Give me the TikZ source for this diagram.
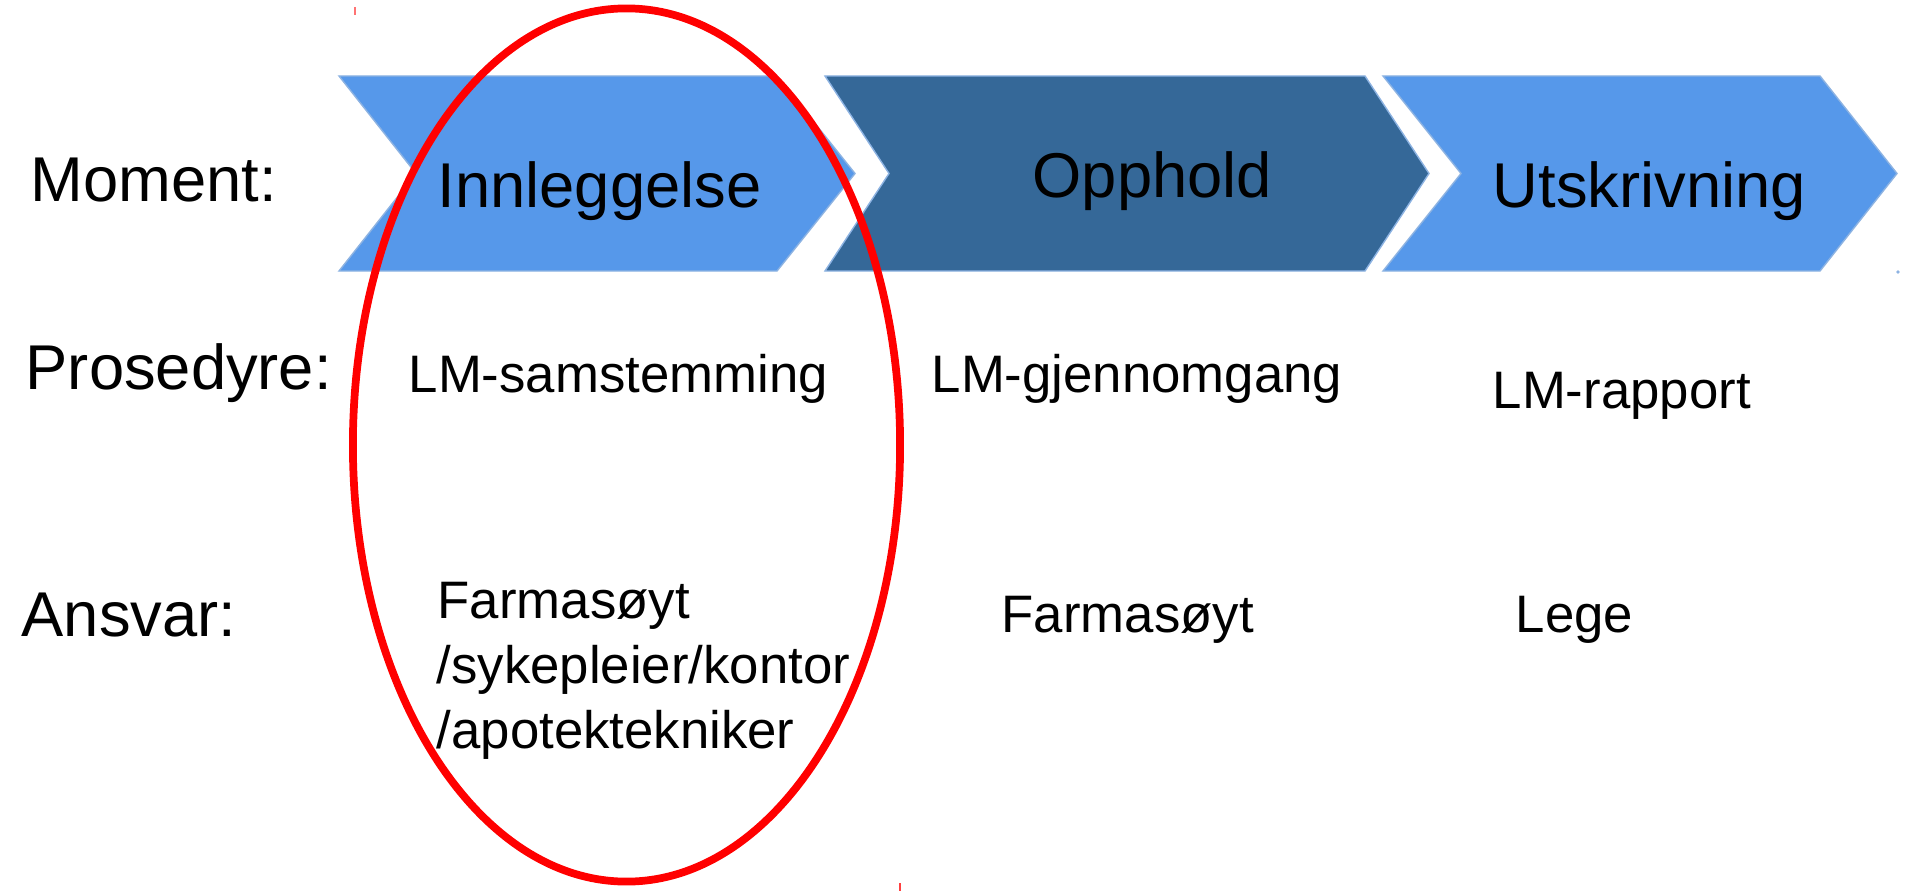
\documentclass[tikz,border=0pt]{standalone}
\usepackage{fontspec}
\setmainfont{Liberation Sans}
\definecolor{chevlight}{RGB}{86,152,234}
\definecolor{chevdark}{RGB}{53,104,152}
\definecolor{chevedge}{RGB}{141,179,226}
\tikzset{
  chevronA/.style={fill=chevlight,draw=chevedge,line width=0.4pt},
  chevronB/.style={fill=chevdark,draw=chevedge,line width=0.4pt},
  bigtxt/.style={inner sep=0pt,anchor=base west,font=\fontsize{18}{21.6}\selectfont},
  smalltxt/.style={inner sep=0pt,anchor=base west,font=\fontsize{15}{18}\selectfont}
}
\begin{document}
\begin{tikzpicture}[x=0.01cm,y=-0.01cm]
    \useasboundingbox (0,0) rectangle (1915,891);
    % chevrons
    \draw [chevronA] (339,76)--(777,76)--(855,173.5)--(777,271)--(339,271)--(416,173.5)--cycle;
    \draw [chevronB] (825,76)--(1365,76)--(1429,173.5)--(1365,271)--(825,271)--(889,173.5)--cycle;
    \draw [chevronA] (1383,76)--(1820,76)--(1897,173.5)--(1820,271)--(1383,271)--(1461,173.5)--cycle;
    % row labels
    \node [bigtxt] (moment) at (30,202) {Moment:};
    \node [bigtxt] (prosedyre) at (25,389) {Prosedyre:};
    \node [bigtxt] (ansvar) at (21,636) {Ansvar:};
    % phases
    \node [bigtxt] (innlegg) at (437,208) {Innleggelse};
    \node [bigtxt] (opphold) at (1032,198) {Opphold};
    \node [bigtxt] (utskriv) at (1492,208) {Utskrivning};
    % procedures
    \node [smalltxt] (samst) at (408,392) {LM-samstemming};
    \node [smalltxt] (gjenn) at (931,392) {LM-gjennomgang};
    \node [smalltxt] (rapport) at (1492,408) {LM-rapport};
    % responsibility
    \node [smalltxt] (farmA) at (437,618) {Farmasøyt};
    \node [smalltxt] (sykepl) at (436,683) {/sykepleier/kontor};
    \node [smalltxt] (apotek) at (436,748) {/apotektekniker};
    \node [smalltxt] (farmB) at (1001,632) {Farmasøyt};
    \node [smalltxt] (lege) at (1515,632) {Lege};
    % highlight
    \draw [red,line width=2.2pt] (626.5,445) ellipse [x radius=273.6,y radius=436.6];
    \draw [red!55,line width=0.6pt] (355,7)--(355,15);
    \draw [red!75,line width=0.6pt] (900,883)--(900,891);
    \filldraw [chevedge] (1898,272) circle[radius=0.8];
\end{tikzpicture}
\end{document}
